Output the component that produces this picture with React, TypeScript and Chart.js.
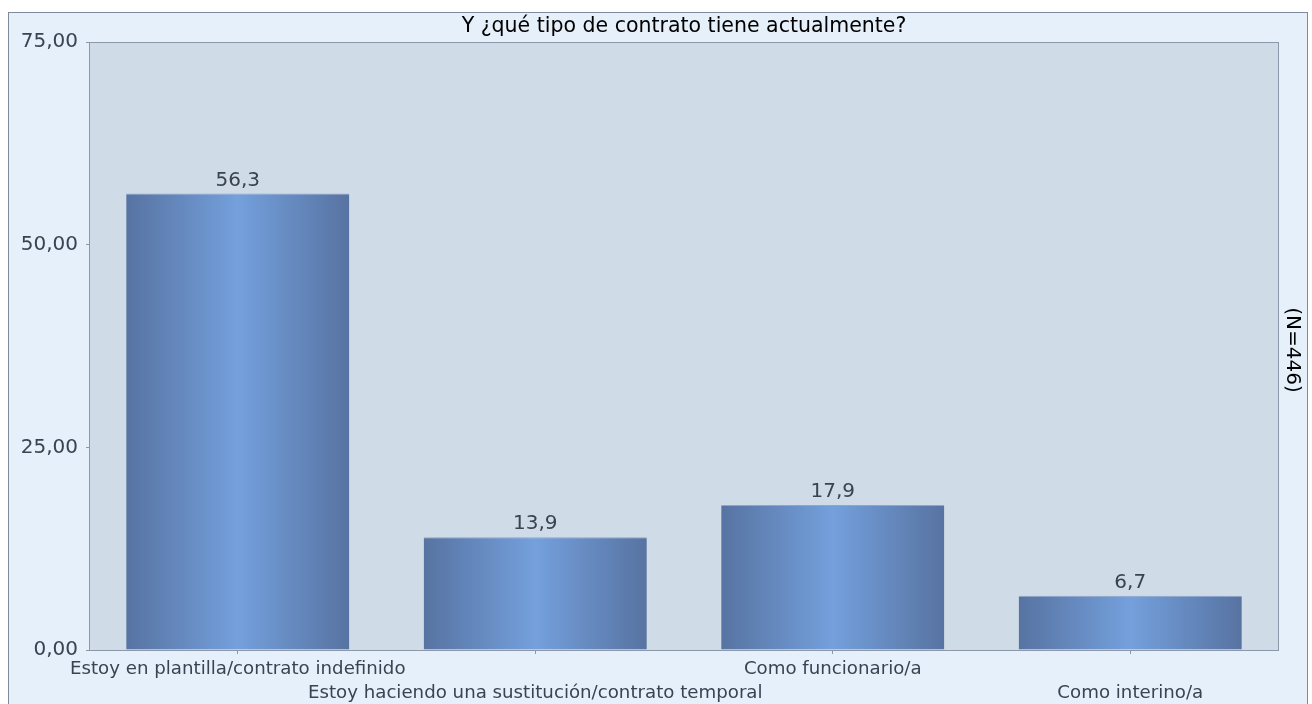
import React, { useEffect, useRef } from "react";
import { Chart, registerables } from "chart.js";

Chart.register(...registerables);

const title = "Y ¿qué tipo de contrato tiene actualmente?";
const sampleNote = "(N=446)";
const categories = [
  "Estoy en plantilla/contrato indefinido",
  "Estoy haciendo una sustitución/contrato temporal",
  "Como funcionario/a",
  "Como interino/a",
];
const values = [56.3, 13.9, 17.9, 6.7];
const yTicks = [0, 25, 50, 75];

const FONT = "'DejaVu Sans', Verdana, sans-serif";
const TEXT = "#3b4252";

const decorPlugin = {
  id: "decor",
  beforeDraw(chart: any) {
    const { ctx, chartArea: a, width, height } = chart;
    ctx.save();
    ctx.fillStyle = "#ffffff";
    ctx.fillRect(0, 0, width, height);
    ctx.fillStyle = "#e6f0fa";
    ctx.fillRect(8, 12, 1299, height);
    ctx.strokeStyle = "#7f8b9c";
    ctx.lineWidth = 1;
    ctx.strokeRect(8.5, 12.5, 1299, height + 10);
    ctx.fillStyle = "#cfdbe6";
    ctx.fillRect(a.left, a.top, a.right - a.left, a.bottom - a.top);
    ctx.strokeStyle = "#8c98aa";
    ctx.strokeRect(a.left + 0.5, a.top + 0.5, a.right - a.left - 1, a.bottom - a.top);
    // title
    ctx.fillStyle = "#000000";
    ctx.font = `20.5px ${FONT}`;
    ctx.textAlign = "center";
    ctx.textBaseline = "alphabetic";
    ctx.fillText(title, (a.left + a.right) / 2, 32);
    // sample note rotated
    ctx.font = `20px ${FONT}`;
    ctx.translate(1292, 350);
    ctx.rotate(Math.PI / 2);
    ctx.textBaseline = "middle";
    ctx.fillText(sampleNote, 0, 0);
    ctx.restore();
  },
  afterDatasetsDraw(chart: any) {
    const { ctx } = chart;
    const meta = chart.getDatasetMeta(0);
    ctx.save();
    ctx.fillStyle = TEXT;
    ctx.font = `20px ${FONT}`;
    ctx.textAlign = "center";
    ctx.textBaseline = "alphabetic";
    meta.data.forEach((el: any, i: number) => {
      ctx.fillText(values[i].toFixed(1).replace(".", ","), el.x, el.y - 8);
    });
    ctx.restore();
  },
};

export default function App() {
  const ref = useRef<HTMLCanvasElement | null>(null);
  useEffect(() => {
    if (!ref.current) return;
    const chart = new Chart(ref.current, {
      type: "bar",
      data: {
        labels: categories,
        datasets: [
          {
            data: values,
            barPercentage: 0.75,
            categoryPercentage: 1,
            borderWidth: { top: 1, left: 0, right: 0, bottom: 0 },
            borderColor: "#8ea6c9",
            borderSkipped: "start",
            backgroundColor: (c: any) => {
              const ch = c.chart;
              const a = ch.chartArea;
              if (!a || c.dataIndex === undefined) return "#6a90c8";
              const x = ch.scales.x.getPixelForValue(c.dataIndex);
              const w = ((a.right - a.left) / categories.length) * 0.75;
              const g = ch.ctx.createLinearGradient(x - w / 2, 0, x + w / 2, 0);
              g.addColorStop(0, "#5773a2");
              g.addColorStop(0.5, "#74a0dc");
              g.addColorStop(1, "#5773a2");
              return g;
            },
          },
        ],
      },
      options: {
        responsive: false,
        animation: false,
        layout: { padding: { left: 0, top: 42, right: 33, bottom: 0 } },
        plugins: {
          legend: { display: false },
          tooltip: { enabled: false },
          title: { display: false },
        },
        scales: {
          x: {
            afterFit: (s: any) => {
              s.height = 54;
            },
            grid: {
              display: true,
              offset: false,
              drawOnChartArea: false,
              drawTicks: true,
              tickLength: 4,
              color: "#8c98aa",
            },
            border: { display: false },
            ticks: {
              autoSkip: false,
              maxRotation: 0,
              minRotation: 0,
              padding: 3,
              color: TEXT,
              font: { family: FONT, size: 18.2, lineHeight: 1.33 },
              callback: (_v: any, i: number) =>
                i % 2 === 0 ? categories[i] : ["", categories[i]],
            },
          },
          y: {
            min: 0,
            max: 75,
            afterFit: (s: any) => {
              s.width = 89;
            },
            afterBuildTicks: (s: any) => {
              s.ticks = yTicks.map((v) => ({ value: v }));
            },
            grid: {
              display: true,
              drawOnChartArea: false,
              drawTicks: true,
              tickLength: 3,
              color: "#8c98aa",
            },
            border: { display: false },
            ticks: {
              padding: 8,
              color: TEXT,
              font: { family: FONT, size: 20 },
              callback: (v: any) => Number(v).toFixed(2).replace(".", ","),
            },
          },
        },
      },
      plugins: [decorPlugin],
    });
    return () => chart.destroy();
  }, []);
  return (
    <div style={{ position: "absolute", left: 0, top: 0, width: 1312, height: 704 }}>
      <canvas ref={ref} width={1312} height={704} style={{ display: "block" }} />
    </div>
  );
}
